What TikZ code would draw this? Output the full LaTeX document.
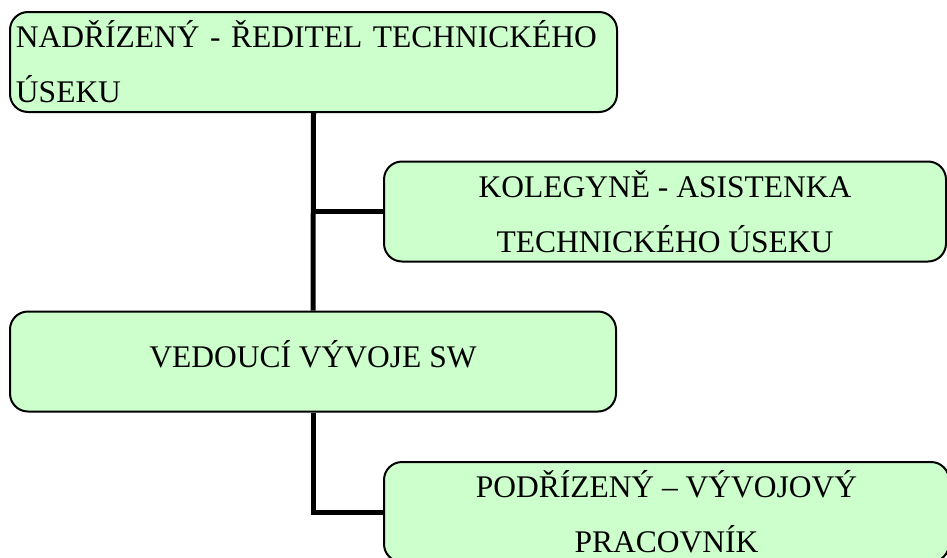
\documentclass[tikz,border=0pt]{standalone}
\usepackage{fontspec}
\setmainfont{Liberation Serif}
\definecolor{boxgreen}{HTML}{CCFFCC}
\tikzset{
    orgbox/.style={draw, line width=2pt, rounded corners=18pt, fill=boxgreen,
        minimum height=100pt, inner sep=0pt, font=\fontsize{31.5}{55}\selectfont},
    link/.style={line width=5pt}
}
\begin{document}
\begin{tikzpicture}[x=1pt, y=-1pt]
    \useasboundingbox (0,0) rectangle (947,557);

    % vedeni
    \node[orgbox, minimum width=607pt, text width=595pt, align=left] (reditel) at (313.5,62)
        {NADŘÍZENÝ - ŘEDITEL TECHNICKÉHO\\ÚSEKU};
    \node[orgbox, minimum width=562pt, align=center] (asistenka) at (665,211.5)
        {KOLEGYNĚ - ASISTENKA\\TECHNICKÉHO ÚSEKU};
    \node[orgbox, minimum width=606pt, align=center, text height=27pt, text depth=16pt] (vedouci) at (313,361.5)
        {VEDOUCÍ VÝVOJE SW};
    \node[orgbox, minimum width=565pt, align=center] (podrizeny) at (666.5,512)
        {PODŘÍZENÝ – VÝVOJOVÝ\\PRACOVNÍK};

    % spojnice
    \draw[link] (reditel.south) -- (vedouci.north);
    \draw[link] (reditel.south |- asistenka.west) -- (asistenka.west);
    \draw[link] (vedouci.south) |- (podrizeny.west);
\end{tikzpicture}
\end{document}
